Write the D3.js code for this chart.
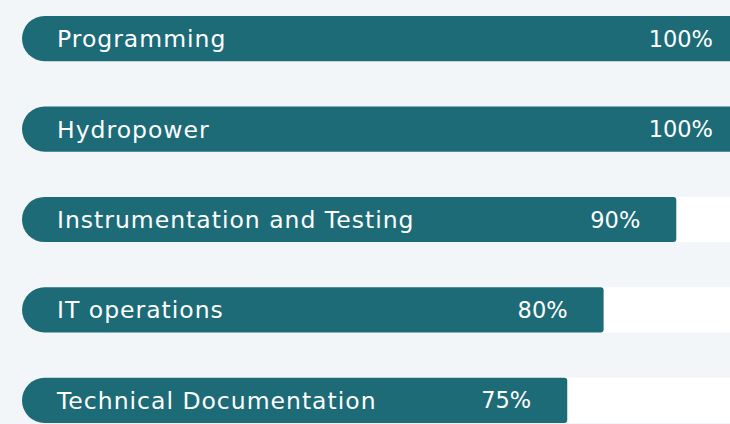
<!DOCTYPE html>
<html>
<head>
<meta charset="utf-8">
<script src="https://cdn.jsdelivr.net/npm/d3@7"></script>
<style>
  body { margin: 0; background: #f2f6f9; overflow: hidden; }
  svg { display: block; }
</style>
</head>
<body>
<div id="chart"></div>
<script>
// Skill levels
const skills = ["Programming", "Hydropower", "Instrumentation and Testing", "IT operations", "Technical Documentation"];
const levels = [100, 100, 90, 80, 75];

const width = 730, height = 424;
const font = "'DejaVu Sans', sans-serif";

const svg = d3.select("#chart").append("svg")
  .attr("width", width)
  .attr("height", height);

// x runs past the right edge, full bars get clipped like the original
const x = d3.scaleLinear().domain([0, 100]).range([22, 749]);

const y = d3.scaleBand()
  .domain(skills)
  .range([16, 423])
  .paddingInner(0.5);

const rows = svg.selectAll("g.row")
  .data(skills.map((s, i) => ({ name: s, value: levels[i] })))
  .join("g")
  .attr("class", "row")
  .attr("transform", d => `translate(0,${y(d.name)})`);

const bh = y.bandwidth();

// white track
rows.append("rect")
  .attr("x", x(0) + bh / 2)
  .attr("width", x(100) - x(0))
  .attr("height", bh)
  .attr("fill", "#ffffff");

// bar: pill on left, small radius on right
rows.append("path")
  .attr("fill", "#1c6b77")
  .attr("d", d => {
    const x0 = x(0), x1 = x(d.value), r = bh / 2, rr = 3;
    return `M${x0 + r},0 H${x1 - rr} Q${x1},0 ${x1},${rr} V${bh - rr} Q${x1},${bh} ${x1 - rr},${bh} H${x0 + r} A${r},${r} 0 0 1 ${x0 + r},0 Z`;
  });

rows.append("text")
  .attr("x", 57)
  .attr("y", bh / 2)
  .attr("dy", "0.36em")
  .attr("fill", "#ffffff")
  .style("font-family", font)
  .style("font-size", "23.5px")
  .style("letter-spacing", "1px")
  .text(d => d.name);

rows.append("text")
  .attr("x", d => x(d.value) - 36)
  .attr("y", bh / 2)
  .attr("dy", "0.36em")
  .attr("text-anchor", "end")
  .attr("fill", "#ffffff")
  .style("font-family", font)
  .style("font-size", "22.5px")
  .text(d => d.value + "%");
</script>
</body>
</html>
